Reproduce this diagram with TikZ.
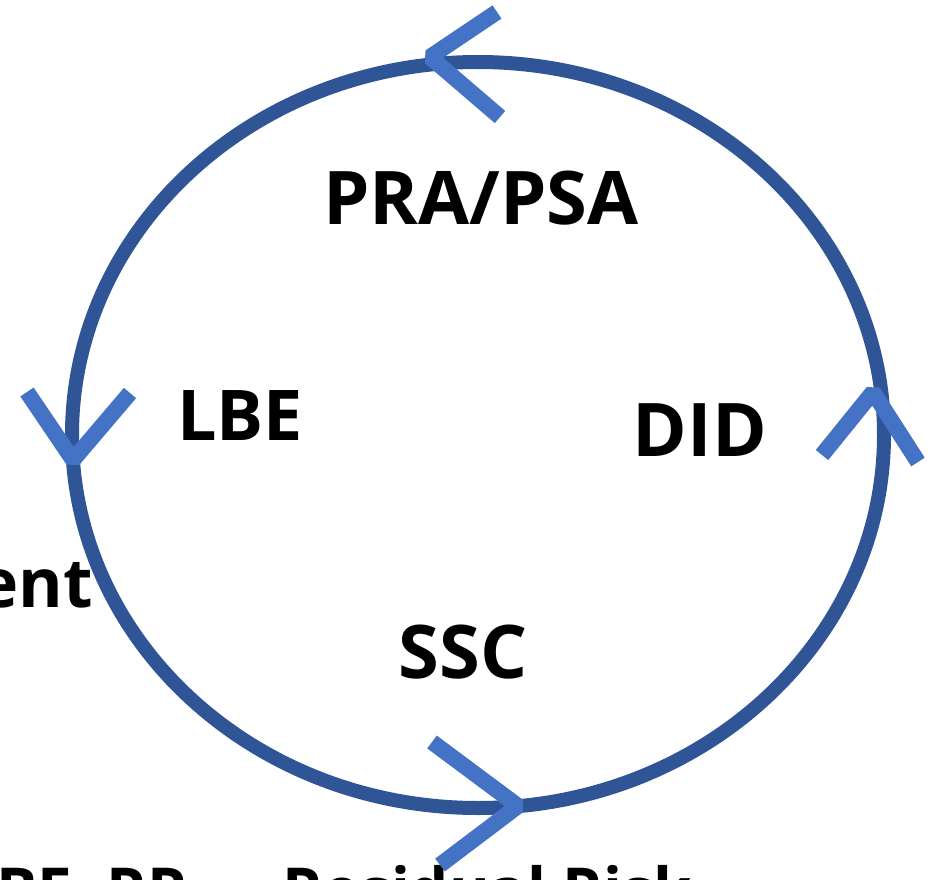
\documentclass[tikz,border=0pt]{standalone}
\usepackage{fontspec}
\setmainfont{Open Sans}
\usepackage{tikz}

\definecolor{ringblue}{HTML}{2F5597}
\definecolor{tipblue}{HTML}{4472C4}

\begin{document}
\begin{tikzpicture}[x=1pt,y=-1pt,
  ring/.style={draw=ringblue,line width=14pt},
  chevron/.style={draw=tipblue,line width=16pt,line join=bevel},
  lbl/.style={font=\fontsize{74}{86}\selectfont\bfseries,inner sep=0pt},
  note/.style={font=\fontsize{62}{74}\selectfont\bfseries,inner sep=0pt}]
  \useasboundingbox (0,0) rectangle (940,880);
  \draw[ring] (478,435) ellipse [x radius=406,y radius=373];
  % labels inside the cycle
  \node[lbl] (pra) at (481,198) {PRA/PSA};
  \node[lbl,font=\fontsize{70}{82}\selectfont\bfseries] (lbe) at (240,416) {LBE};
  \node[lbl] (did) at (700,430) {DID};
  \node[lbl] (ssc) at (463,652) {SSC};
  % cut-off texts at the edges
  \node[lbl,font=\fontsize{68}{80}\selectfont\bfseries,anchor=east] (ent) at (93,585) {ent};
  \node[note,anchor=north west] (legend) at (-4,865) {BE, RR — Residual Risk};
  % direction marks on the ring
  \draw[chevron] (497,12) -- (430,57) -- (500,117);
  \draw[chevron] (27,392) -- (73,460) -- (130,393);
  \draw[chevron] (432,742) -- (518,806) -- (440,865);
  \draw[chevron] (822,455) -- (873,392) -- (918,462);
\end{tikzpicture}
\end{document}
